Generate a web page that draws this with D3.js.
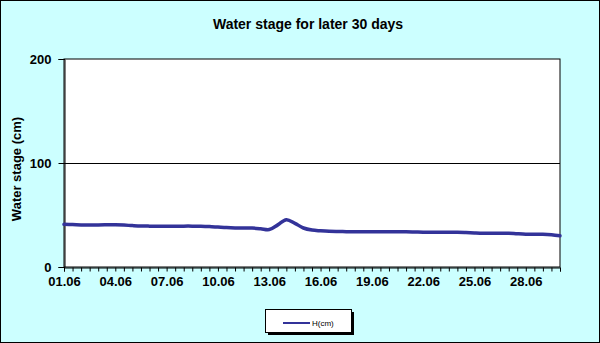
<!DOCTYPE html>
<html><head><meta charset="utf-8">
<script src="https://cdn.jsdelivr.net/npm/d3@7"></script>
<style>
html,body{margin:0;padding:0;background:#fff;}
svg{display:block;}
text{font-family:"Liberation Sans",Arial,sans-serif;}
</style></head>
<body>
<script>
const title = "Water stage for later 30 days";
const yTitle = "Water stage (cm)";
const seriesName = "H(cm)";
const categories = ["01.06","01.06","02.06","02.06","03.06","03.06","04.06","04.06","05.06","05.06",
"06.06","06.06","07.06","07.06","08.06","08.06","09.06","09.06","10.06","10.06",
"11.06","11.06","12.06","12.06","13.06","13.06","14.06","14.06","15.06","15.06",
"16.06","16.06","17.06","17.06","18.06","18.06","19.06","19.06","20.06","20.06",
"21.06","21.06","22.06","22.06","23.06","23.06","24.06","24.06","25.06","25.06",
"26.06","26.06","27.06","27.06","28.06","28.06","29.06","29.06","30.06"];
const values = [41,40.8,40.5,40.4,40.5,40.6,40.6,40.3,39.8,39.4,
39.3,39.3,39.3,39.3,39.3,39.3,39.2,38.9,38.4,37.9,
37.6,37.5,37.4,36.8,36,40.5,45.5,42,37.5,35.5,
34.8,34.3,34.1,34,34,34,34,34,34,34,
33.8,33.6,33.5,33.5,33.5,33.5,33.5,33.2,32.8,32.5,
32.5,32.5,32.5,32,31.6,31.5,31.5,31,30];
const yTicks = [0,100,200];
const labelEvery = 6;

const W=600,H=343;
const svg=d3.select("body").append("svg").attr("width",W).attr("height",H);
svg.append("rect").attr("x",0.5).attr("y",0.5).attr("width",W-1).attr("height",H-1)
  .attr("fill","#CCFFFF").attr("stroke","#000");

const L=64,R=560,T=59,B=267;
const x=d3.scalePoint().domain(d3.range(categories.length)).range([L,R]);
const y=d3.scaleLinear().domain([0,200]).range([B,T]);

svg.append("rect").attr("x",L).attr("y",T).attr("width",R-L).attr("height",B-T)
  .attr("fill","#fff").attr("stroke","#000").attr("stroke-width",1);

// gridline
svg.append("g").selectAll("line").data(yTicks.filter(d=>d>0&&d<200)).join("line")
  .attr("x1",L).attr("x2",R).attr("y1",d=>y(d)+0.5).attr("y2",d=>y(d)+0.5)
  .attr("stroke","#000");

// y axis
const ya=svg.append("g").attr("transform",`translate(${L+0.5},0)`)
  .call(d3.axisLeft(y).tickValues(yTicks).tickSize(6).tickPadding(7).tickFormat(d3.format("d")));
ya.select(".domain").attr("stroke","#000");
ya.selectAll("text").attr("font-size",13).attr("font-weight","bold").attr("fill","#000");

// x axis
const xa=svg.append("g").attr("transform",`translate(0,${B+0.5})`)
  .call(d3.axisBottom(x).tickSize(4).tickPadding(5)
    .tickFormat(i=> i%labelEvery===0 ? categories[i] : ""));
xa.select(".domain").attr("stroke","#000");
xa.selectAll("text").attr("font-size",13).attr("font-weight","bold").attr("fill","#000");

// line
svg.append("path").datum(values)
  .attr("fill","none").attr("stroke","#333399").attr("stroke-width",3.5)
  .attr("stroke-linejoin","round").attr("stroke-linecap","round")
  .attr("d",d3.line().x((d,i)=>x(i)).y(d=>y(d)).curve(d3.curveCatmullRom.alpha(0.5)));

// title
svg.append("text").attr("x",308).attr("y",29).attr("text-anchor","middle")
  .attr("font-size",14).attr("font-weight","bold").attr("fill","#000").text(title);

// y title
svg.append("text").attr("transform",`translate(21,169) rotate(-90)`).attr("text-anchor","middle")
  .attr("font-size",13).attr("font-weight","bold").attr("fill","#000").text(yTitle);

// legend
const lg=svg.append("g");
lg.append("rect").attr("x",268).attr("y",312).attr("width",86).attr("height",23).attr("fill","#000");
lg.append("rect").attr("x",265.5).attr("y",309.5).attr("width",86).attr("height",23)
  .attr("fill","#fff").attr("stroke","#000");
lg.append("line").attr("x1",283).attr("x2",310).attr("y1",323).attr("y2",323)
  .attr("stroke","#333399").attr("stroke-width",2);
lg.append("text").attr("x",312).attr("y",326).attr("font-size",8).attr("fill","#000").text(seriesName);
</script>
</body></html>
